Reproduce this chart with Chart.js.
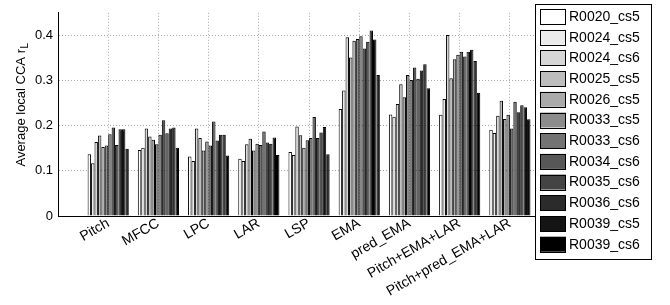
<!DOCTYPE html>
<html>
<head>
<meta charset="utf-8">
<script src="https://cdn.jsdelivr.net/npm/chart.js@4/dist/chart.umd.min.js"></script>
<style>
  html, body { margin: 0; padding: 0; background: #fff; }
  #wrap { width: 670px; height: 305px; }
</style>
</head>
<body>
<div id="wrap"><canvas id="c"></canvas></div>
<script>
const cats = ['Pitch','MFCC','LPC','LAR','LSP','EMA','pred_EMA','Pitch+EMA+LAR','Pitch+pred_EMA+LAR'];
const names = ['R0020_cs5','R0024_cs5','R0024_cs6','R0025_cs5','R0026_cs5','R0033_cs5','R0033_cs6','R0034_cs6','R0035_cs6','R0036_cs6','R0039_cs5','R0039_cs6'];
const greys = ['#ffffff','#ebebeb','#d6d6d6','#bdbdbd','#aaaaaa','#8c8c8c','#737373','#575757','#444444','#2b2b2b','#141414','#000000'];

const r0020_cs5 = [0.137,0.146,0.132,0.127,0.142,0.237,0.225,0.224,0.191];
const r0024_cs5 = [0.117,0.151,0.122,0.122,0.135,0.278,0.220,0.259,0.184];
const r0024_cs6 = [0.164,0.194,0.194,0.159,0.198,0.396,0.248,0.401,0.222];
const r0025_cs5 = [0.178,0.176,0.173,0.171,0.179,0.351,0.292,0.305,0.255];
const r0026_cs5 = [0.153,0.169,0.145,0.145,0.151,0.388,0.263,0.347,0.215];
const r0033_cs5 = [0.156,0.159,0.165,0.160,0.168,0.392,0.312,0.357,0.224];
const r0033_cs6 = [0.181,0.180,0.156,0.157,0.173,0.398,0.301,0.364,0.194];
const r0034_cs6 = [0.196,0.212,0.209,0.187,0.219,0.371,0.329,0.353,0.253];
const r0035_cs6 = [0.157,0.183,0.167,0.163,0.173,0.386,0.304,0.364,0.230];
const r0036_cs6 = [0.192,0.194,0.180,0.160,0.185,0.411,0.322,0.368,0.245];
const r0039_cs5 = [0.192,0.196,0.180,0.174,0.197,0.391,0.336,0.343,0.241];
const r0039_cs6 = [0.149,0.151,0.134,0.135,0.137,0.312,0.283,0.273,0.214];
const series = [r0020_cs5,r0024_cs5,r0024_cs6,r0025_cs5,r0026_cs5,r0033_cs5,r0033_cs6,r0034_cs6,r0035_cs6,r0036_cs6,r0039_cs5,r0039_cs6];

const yTicks = [0,0.1,0.2,0.3,0.4];
const font = '"Liberation Sans", Arial, Helvetica, sans-serif';
const grid = '#a8a8a8';

// y title with subscript, drawn by hand
const yTitle = {
    id: 'yTitle',
    afterDraw(chart) {
        const ctx = chart.ctx;
        ctx.save();
        ctx.translate(21, 105);
        ctx.rotate(-Math.PI / 2);
        ctx.fillStyle = '#000';
        ctx.textBaseline = 'middle';
        ctx.font = '13px ' + font;
        const main = 'Average local CCA r';
        const w1 = ctx.measureText(main).width;
        ctx.font = '10px ' + font;
        const w2 = ctx.measureText('L').width;
        const x0 = -(w1 + w2) / 2;
        ctx.font = '13px ' + font;
        ctx.textAlign = 'left';
        ctx.fillText(main, x0, 0);
        ctx.font = '10px ' + font;
        ctx.fillText('L', x0 + w1 + 0.5, 4);
        ctx.restore();
    }
};

// boxed legend on the right
const boxLegend = {
    id: 'boxLegend',
    afterDraw(chart) {
        const ctx = chart.ctx;
        ctx.save();
        ctx.fillStyle = '#fff';
        ctx.strokeStyle = '#000';
        ctx.lineWidth = 1;
        ctx.fillRect(535, 4, 116, 255);
        ctx.strokeRect(535.5, 4.5, 116, 255);
        ctx.font = '14px ' + font;
        ctx.textBaseline = 'middle';
        ctx.textAlign = 'left';
        chart.data.datasets.forEach((ds, i) => {
            const y = 9 + i * 20.7;
            ctx.fillStyle = ds.backgroundColor;
            ctx.fillRect(540, y, 26, 15);
            ctx.strokeRect(540.5, Math.round(y) + 0.5, 25, 15);
            ctx.fillStyle = '#000';
            ctx.fillText(ds.label, 569, y + 8);
        });
        ctx.restore();
    }
};

new Chart(document.getElementById('c'), {
    type: 'bar',
    data: {
        datasets: series.map((vals, i) => ({
            label: names[i],
            data: vals.map((v, j) => ({ x: j + 1, y: v })),
            backgroundColor: greys[i],
            borderColor: '#000',
            borderWidth: 1,
            categoryPercentage: 0.82,
            barPercentage: 1
        }))
    },
    options: {
        responsive: true,
        maintainAspectRatio: false,
        animation: false,
        layout: { padding: { top: 7, right: 135, left: 0, bottom: 0 } },
        plugins: { legend: { display: false }, tooltip: { enabled: false } },
        scales: {
            x: {
                type: 'linear',
                min: 0,
                max: 9.5,
                offset: false,
                afterBuildTicks: s => { s.ticks = cats.map((c, i) => ({ value: i + 1 })); },
                afterFit: s => { s.height = 89; },
                ticks: {
                    color: '#000',
                    font: { family: font, size: 14 },
                    minRotation: 30,
                    maxRotation: 30,
                    padding: -1,
                    autoSkip: false,
                    callback: v => cats[v - 1]
                },
                grid: { color: grid, drawTicks: false, lineWidth: 1, offset: false },
                border: { color: '#000', width: 1, dash: [1, 2] }
            },
            y: {
                min: 0,
                max: 0.45,
                afterBuildTicks: s => { s.ticks = yTicks.map(v => ({ value: v })); },
                afterFit: s => { s.width = 58; },
                ticks: {
                    color: '#000',
                    font: { family: font, size: 13 },
                    padding: 5,
                    callback: v => String(Math.round(v * 10) / 10)
                },
                grid: { color: grid, drawTicks: false, lineWidth: 1 },
                border: { color: '#000', width: 1, dash: [1, 2] }
            }
        }
    },
    plugins: [yTitle, boxLegend]
});
</script>
</body>
</html>
